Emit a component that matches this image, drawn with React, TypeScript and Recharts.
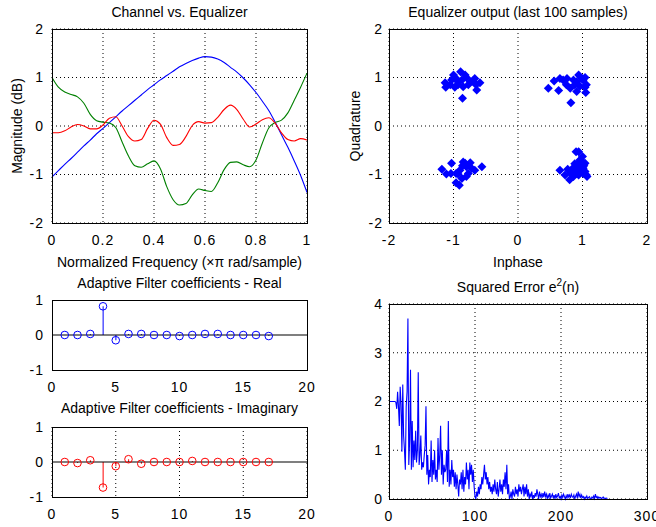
import React from "react";
import {
  LineChart,
  Line,
  XAxis,
  YAxis,
  CartesianGrid,
  ScatterChart,
  Scatter,
  ComposedChart,
  Bar,
  ReferenceLine,
} from "recharts";

// ---- data ----
const freq = [
  0, 0.025, 0.05, 0.075, 0.1, 0.125, 0.15, 0.175, 0.2, 0.225, 0.25, 0.275, 0.3, 0.325,
  0.35, 0.375, 0.4, 0.425, 0.45, 0.475, 0.5, 0.525, 0.55, 0.575, 0.6, 0.625, 0.65,
  0.675, 0.7, 0.725, 0.75, 0.775, 0.8, 0.825, 0.85, 0.875, 0.9, 0.925, 0.95, 0.975, 1,
];
const channelMag = [
  -1.05, -0.92, -0.79, -0.67, -0.54, -0.41, -0.29, -0.16, -0.05, 0.07, 0.19, 0.31, 0.42,
  0.53, 0.64, 0.75, 0.85, 0.95, 1.04, 1.13, 1.22, 1.29, 1.35, 1.4, 1.43, 1.42, 1.38, 1.31,
  1.21, 1.11, 0.99, 0.85, 0.69, 0.51, 0.32, 0.08, -0.18, -0.44, -0.72, -1.02, -1.37,
];
const equalizerMag = [
  1.0, 0.8, 0.7, 0.65, 0.6, 0.47, 0.24, 0.11, 0.08, 0.06, -0.03, -0.33, -0.62, -0.82,
  -0.85, -0.78, -0.72, -0.88, -1.25, -1.52, -1.63, -1.6, -1.42, -1.3, -1.33, -1.35,
  -1.17, -0.9, -0.75, -0.74, -0.8, -0.84, -0.7, -0.35, -0.04, 0.07, 0.12, 0.27, 0.53,
  0.8, 1.09,
];
const combinedMag = [
  -0.14, -0.14, -0.1, -0.02, 0.03, 0.0, -0.06, -0.06, 0.02, 0.16, 0.19, 0.0, -0.22,
  -0.31, -0.28, -0.05, 0.12, 0.04, -0.24, -0.4, -0.38, -0.22, 0.01, 0.09, 0.06, 0.07,
  0.18, 0.34, 0.43, 0.34, 0.14, -0.02, 0.04, 0.13, 0.17, 0.06, -0.14, -0.28, -0.31,
  -0.26, -0.29,
];

const outI = [
  -1.13, -1.12, -1.0, -0.96, -0.89, -0.87, -0.93, -0.85, -0.8, -0.74, -0.82, -0.67, -0.65,
  -0.64, -0.59, -0.86, -0.98, -1.03, -0.77, -0.7, -0.93, -1.05,
  0.47, 0.56, 0.63, 0.65, 0.7, 0.75, 0.82, 0.81, 0.88, 0.91, 0.94, 0.99, 1.01, 1.04, 0.96,
  1.04, 1.05, 1.06, 0.91, 0.86, 0.76,
  -1.18, -1.03, -0.96, -0.9, -0.96, -0.86, -0.85, -0.8, -0.87, -0.77, -0.74, -0.67, -0.56,
  -1.11, -0.93, -0.8, -0.91, -0.82, -1.04, -0.72,
  0.65, 0.73, 0.8, 0.82, 0.88, 0.91, 0.94, 0.96, 0.99, 1.01, 1.04, 1.06, 1.01, 0.95, 0.91,
  0.86, 0.9, 0.94, 0.97, 1.0, 1.04, 1.07, 0.85, 0.77, 0.99, 0.94, 1.02, 0.88, 0.96, 0.92,
];
const outQ = [
  0.89, 0.8, 1.05, 0.98, 1.12, 0.95, 0.85, 0.81, 1.0, 0.91, 1.05, 0.98, 0.85, 0.74, 0.89,
  0.57, 0.8, 0.95, 0.85, 0.93, 0.91, 0.85,
  0.78, 0.93, 0.73, 0.98, 0.95, 0.85, 0.48, 0.78, 0.85, 0.91, 1.05, 0.98, 0.95, 1.0, 0.82,
  0.8, 0.69, 0.85, 0.71, 0.95, 0.98,
  -0.89, -0.77, -0.98, -0.91, -1.17, -0.82, -0.74, -0.84, -1.08, -0.98, -0.76, -0.91,
  -0.84, -0.99, -0.99, -1.04, -1.22, -0.77, -0.98, -0.87,
  -0.91, -1.01, -1.11, -0.98, -0.94, -0.84, -0.77, -0.7, -0.8, -0.87, -0.94, -1.01,
  -0.98, -0.91, -0.98, -1.04, -0.53, -0.53, -0.7, -0.63, -0.77, -1.04, -0.87, -0.89,
  -0.91, -1.01, -0.82, -0.78, -0.84, -0.91,
];

const taps = [1, 2, 3, 4, 5, 6, 7, 8, 9, 10, 11, 12, 13, 14, 15, 16, 17];
const coefReal = [0, 0, 0.03, 0.82, -0.15, 0.03, 0.03, 0, 0, -0.03, 0, 0.03, 0.03, 0, 0, 0, -0.03];
const coefImag = [0, -0.03, 0.05, -0.73, -0.12, 0.08, -0.05, 0, 0, 0, 0.03, 0, 0, 0, 0, 0, 0];

const errSq = [
  2.0, 2.0, 2.0, 2.0, 2.0, 2.0, 2.0, 1.98, 1.85, 2.2,
  1.9, 1.5, 2.3, 1.95, 0.97, 2.35, 1.3, 1.0, 0.6, 1.9,
  2.2, 3.7, 0.7, 1.2, 2.65, 0.6, 1.6, 0.65, 1.2, 0.8,
  1.4, 0.75, 1.0, 2.6, 0.7, 0.9, 1.3, 0.6, 0.75, 0.65,
  0.9, 1.1, 1.9, 0.5, 0.9, 0.3, 0.6, 0.45, 1.2, 0.35,
  0.8, 0.5, 1.0, 0.4, 0.6, 0.35, 1.25, 0.6, 0.9, 1.5,
  0.5, 1.0, 0.3, 0.7, 0.55, 0.6, 1.0, 0.35, 1.6, 0.25,
  0.6, 0.3, 0.8, 0.45, 0.6, 0.25, 0.55, 0.2, 0.5, 0.3,
  0.05, 0.4, 0.3, 0.55, 0.2, 0.6, 0.15, 0.45, 0.3, 0.75,
  0.4, 0.6, 0.2, 0.75, 0.5, 0.7, 0.35, 0.6, 0.25, 0.05,
  0.0, 0.15, 0.05, 0.25, 0.1, 0.3, 0.2, 0.45, 0.3, 0.5,
  0.7, 0.4, 0.55, 0.3, 0.45, 0.2, 0.35, 0.15, 0.25, 0.1,
  0.3, 0.15, 0.4, 0.2, 0.1, 0.35, 0.05, 0.2, 0.4, 0.15,
  0.3, 0.1, 0.4, 0.25, 0.55, 0.2, 0.7, 0.1, 0.3, 0.0,
  0.05, 0.15, 0.0, 0.2, 0.1, 0.05, 0.25, 0.1, 0.2, 0.05,
  0.3, 0.15, 0.25, 0.1, 0.2, 0.3, 0.05, 0.25, 0.1, 0.3,
  0.05, 0.2, 0.0, 0.1, 0.05, 0.15, 0.0, 0.08, 0.02, 0.12,
  0.05, 0.2, 0.1, 0.0, 0.15, 0.05, 0.1, 0.02, 0.12, 0.04,
  0.15, 0.05, 0.1, 0.0, 0.08, 0.03, 0.12, 0.02, 0.06, 0.1,
  0.02, 0.08, 0.0, 0.1, 0.03, 0.06, 0.12, 0.02, 0.05, 0.0,
  0.08, 0.03, 0.1, 0.05, 0.0, 0.07, 0.02, 0.1, 0.04, 0.08,
  0.02, 0.1, 0.05, 0.03, 0.08, 0.0, 0.06, 0.1, 0.02, 0.15,
  0.05, 0.1, 0.02, 0.08, 0.03, 0.05, 0.0, 0.04, 0.02, 0.06,
  0.01, 0.03, 0.05, 0.02, 0.0, 0.04, 0.02, 0.06, 0.01, 0.1,
  0.03, 0.05, 0.01, 0.04, 0.02, 0.03, 0.01, 0.02, 0.04, 0.01,
  0.02, 0.01, 0.02, 0.01,
];

const freqTicks = [0, 0.2, 0.4, 0.6, 0.8, 1];
const magTicks = [-2, -1, 0, 1, 2];
const iqTicks = [-2, -1, 0, 1, 2];
const tapTicks = [0, 5, 10, 15, 20];
const coefTicks = [-1, 0, 1];
const iterTicks = [0, 100, 200, 300];
const errTicks = [0, 1, 2, 3, 4];

// ---- layout ----
const FONT = "'Liberation Sans', Arial, Helvetica, sans-serif";
const YW = 50;
const XH = 30;
const M = { top: 10, right: 20, bottom: 0, left: 0 };

type Box = { x: number; y: number; w: number; h: number };
const BOX_A: Box = { x: 52, y: 29, w: 255, h: 194 };
const BOX_B: Box = { x: 389, y: 29, w: 258, h: 194 };
const BOX_C: Box = { x: 52, y: 300, w: 255, h: 70 };
const BOX_D: Box = { x: 52, y: 427, w: 255, h: 70 };
const BOX_E: Box = { x: 389, y: 304, w: 258, h: 195 };

const tickStyle = { fill: "#000", fontSize: 14, fontFamily: FONT, letterSpacing: 1 };
const gridProps = { stroke: "#000", strokeDasharray: "1 3" };

function wrapStyle(box: Box): React.CSSProperties {
  return { position: "absolute", left: box.x - YW, top: box.y - M.top };
}
function dims(box: Box) {
  return { width: box.w + YW + M.right, height: box.h + M.top + XH };
}

function Frame({ box }: { box: Box }) {
  return (
    <div
      style={{
        position: "absolute",
        left: box.x,
        top: box.y,
        width: box.w + 1,
        height: box.h + 1,
        border: "1px solid #000",
        boxSizing: "border-box",
        pointerEvents: "none",
      }}
    />
  );
}

function Caption({ cx, top, children }: { cx: number; top: number; children: React.ReactNode }) {
  return (
    <div
      style={{
        position: "absolute",
        left: cx - 200,
        top,
        width: 400,
        textAlign: "center",
        fontSize: 14,
        lineHeight: "16px",
        whiteSpace: "nowrap",
      }}
    >
      {children}
    </div>
  );
}

function VCaption({ cx, cy, children }: { cx: number; cy: number; children: React.ReactNode }) {
  return (
    <div
      style={{
        position: "absolute",
        left: cx - 100,
        top: cy - 8,
        width: 200,
        height: 16,
        lineHeight: "16px",
        textAlign: "center",
        fontSize: 14,
        whiteSpace: "nowrap",
        transform: "rotate(-90deg)",
      }}
    >
      {children}
    </div>
  );
}

const Diamond = (p: any) => (
  <polygon
    points={`${p.cx},${p.cy - 4.5} ${p.cx + 4.5},${p.cy} ${p.cx},${p.cy + 4.5} ${p.cx - 4.5},${p.cy}`}
    fill="#0000ff"
  />
);

const ringOf = (color: string) => (p: any) =>
  <circle cx={p.cx} cy={p.cy} r={3.8} fill="none" stroke={color} strokeWidth={1} />;

function StemPanel({ box, values, color, grid }: { box: Box; values: number[]; color: string; grid: boolean }) {
  const data = taps.map((k, i) => ({ k, v: values[i] }));
  return (
    <div style={wrapStyle(box)}>
      <ComposedChart {...dims(box)} data={data} margin={M}>
        {grid && <CartesianGrid {...gridProps} horizontal={false} />}
        <XAxis
          dataKey="k"
          type="number"
          domain={[0, 20]}
          ticks={tapTicks}
          height={XH}
          tickSize={0}
          tickMargin={12}
          axisLine={false}
          tickLine={false}
          tick={tickStyle}
        />
        <YAxis
          type="number"
          domain={[-1, 1]}
          ticks={coefTicks}
          width={YW}
          tickSize={0}
          tickMargin={8}
          axisLine={false}
          tickLine={false}
          tick={tickStyle}
        />
        <ReferenceLine y={0} stroke="#000" strokeWidth={1.2} />
        <Bar dataKey="v" barSize={1} fill={color} isAnimationActive={false} />
        <Scatter dataKey="v" shape={ringOf(color)} isAnimationActive={false} />
      </ComposedChart>
    </div>
  );
}

export default function App() {
  const freqData = freq.map((f, i) => ({
    f,
    channel: channelMag[i],
    equalizer: equalizerMag[i],
    combined: combinedMag[i],
  }));
  const iqData = outI.map((i, idx) => ({ i, q: outQ[idx] }));
  const errData = errSq.map((v, idx) => ({ n: idx + 1, v }));

  return (
    <div
      style={{
        position: "absolute",
        left: 0,
        top: 0,
        width: 656,
        height: 527,
        background: "#fff",
        fontFamily: FONT,
        color: "#000",
        overflow: "hidden",
      }}
    >
      {/* Channel vs. Equalizer */}
      <div style={wrapStyle(BOX_A)}>
        <LineChart {...dims(BOX_A)} data={freqData} margin={M}>
          <CartesianGrid {...gridProps} />
          <XAxis
            dataKey="f"
            type="number"
            domain={[0, 1]}
            ticks={freqTicks}
            height={XH}
            tickSize={0}
            tickMargin={12}
            axisLine={false}
            tickLine={false}
            tick={tickStyle}
          />
          <YAxis
            type="number"
            domain={[-2, 2]}
            ticks={magTicks}
            width={YW}
            tickSize={0}
            tickMargin={8}
            axisLine={false}
            tickLine={false}
            tick={tickStyle}
          />
          <Line type="monotone" dataKey="channel" stroke="#0000ff" strokeWidth={1.1} dot={false} isAnimationActive={false} />
          <Line type="monotone" dataKey="equalizer" stroke="#008000" strokeWidth={1.1} dot={false} isAnimationActive={false} />
          <Line type="monotone" dataKey="combined" stroke="#ff0000" strokeWidth={1.1} dot={false} isAnimationActive={false} />
        </LineChart>
      </div>
      <Frame box={BOX_A} />
      <Caption cx={179.5} top={4}>Channel vs. Equalizer</Caption>
      <Caption cx={179.5} top={254}>Normalized Frequency (&times;&pi; rad/sample)</Caption>
      <VCaption cx={17} cy={126}>Magnitude (dB)</VCaption>

      {/* Equalizer output */}
      <div style={wrapStyle(BOX_B)}>
        <ScatterChart {...dims(BOX_B)} margin={M}>
          <CartesianGrid {...gridProps} />
          <XAxis
            dataKey="i"
            type="number"
            domain={[-2, 2]}
            ticks={iqTicks}
            height={XH}
            tickSize={0}
            tickMargin={12}
            axisLine={false}
            tickLine={false}
            tick={tickStyle}
          />
          <YAxis
            dataKey="q"
            type="number"
            domain={[-2, 2]}
            ticks={iqTicks}
            width={YW}
            tickSize={0}
            tickMargin={6}
            axisLine={false}
            tickLine={false}
            tick={tickStyle}
          />
          <Scatter data={iqData} shape={Diamond} isAnimationActive={false} />
        </ScatterChart>
      </div>
      <Frame box={BOX_B} />
      <Caption cx={518} top={4}>Equalizer output (last 100 samples)</Caption>
      <Caption cx={518} top={254}>Inphase</Caption>
      <VCaption cx={355} cy={126}>Quadrature</VCaption>

      {/* Filter coefficients */}
      <StemPanel box={BOX_C} values={coefReal} color="#0000ff" grid={false} />
      <Frame box={BOX_C} />
      <Caption cx={179.5} top={275}>Adaptive Filter coefficients - Real</Caption>

      <StemPanel box={BOX_D} values={coefImag} color="#ff0000" grid={true} />
      <Frame box={BOX_D} />
      <Caption cx={179.5} top={400}>Adaptive Filter coefficients - Imaginary</Caption>

      {/* Squared error */}
      <div style={wrapStyle(BOX_E)}>
        <LineChart {...dims(BOX_E)} data={errData} margin={M}>
          <CartesianGrid {...gridProps} />
          <XAxis
            dataKey="n"
            type="number"
            domain={[0, 300]}
            ticks={iterTicks}
            height={XH}
            tickSize={0}
            tickMargin={12}
            axisLine={false}
            tickLine={false}
            tick={tickStyle}
          />
          <YAxis
            type="number"
            domain={[0, 4]}
            ticks={errTicks}
            width={YW}
            tickSize={0}
            tickMargin={6}
            axisLine={false}
            tickLine={false}
            tick={tickStyle}
          />
          <Line type="linear" dataKey="v" stroke="#0000ff" strokeWidth={1.1} dot={false} isAnimationActive={false} />
        </LineChart>
      </div>
      <Frame box={BOX_E} />
      <Caption cx={518} top={279}>
        Squared Error e<sup style={{ fontSize: 10, lineHeight: 0, verticalAlign: "6px" }}>2</sup>(n)
      </Caption>
    </div>
  );
}
